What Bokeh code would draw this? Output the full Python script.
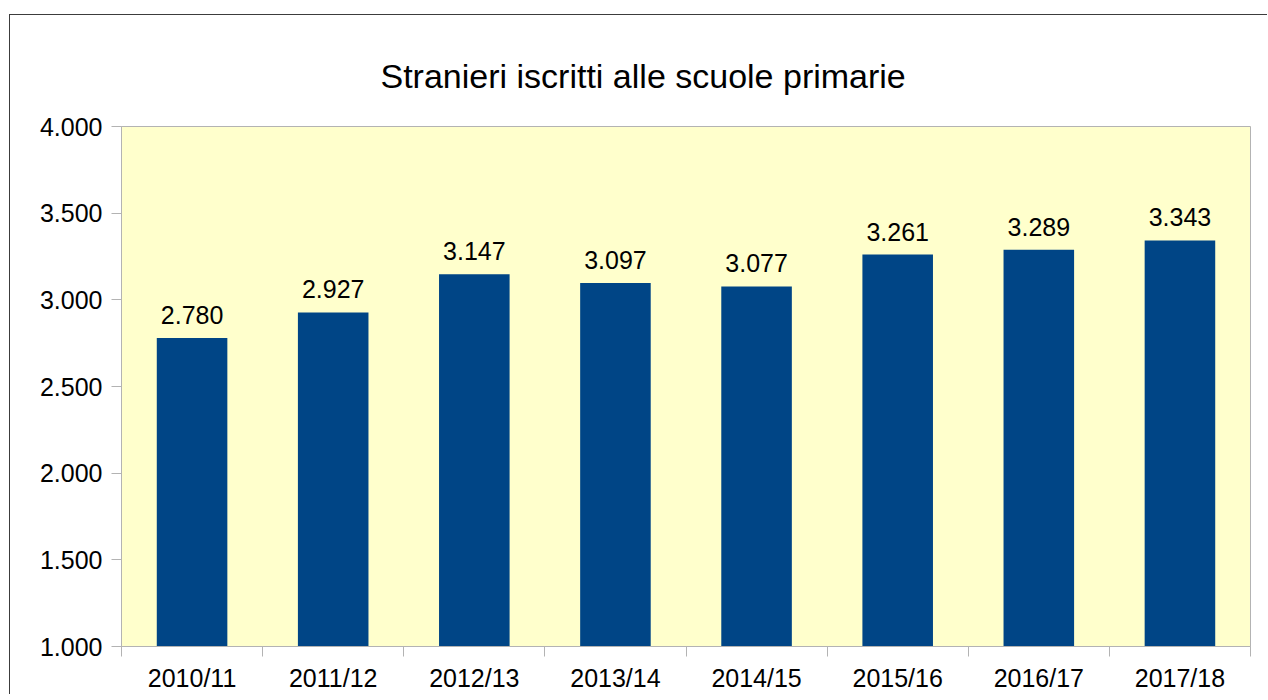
from bokeh.plotting import figure
from bokeh.models import ColumnDataSource, FixedTicker, Range1d
from bokeh.core.properties import value
from bokeh.embed import file_html
from bokeh.resources import INLINE

categories = ["2010/11", "2011/12", "2012/13", "2013/14", "2014/15", "2015/16", "2016/17", "2017/18"]
values = [2780, 2927, 3147, 3097, 3077, 3261, 3289, 3343]
y_ticks = [1000, 1500, 2000, 2500, 3000, 3500, 4000]
y_tick_labels = ["1.000", "1.500", "2.000", "2.500", "3.000", "3.500", "4.000"]
chart_title = "Stranieri iscritti alle scuole primarie"

FONT = "Liberation Sans"
n = len(categories)
xs = [i + 0.5 for i in range(n)]
bar_labels = [f"{v:,}".replace(",", ".") for v in values]
src = ColumnDataSource(dict(x=xs, top=values, label=bar_labels))

p = figure(width=1258, height=680, output_backend="svg", toolbar_location=None,
           x_range=Range1d(0, n), y_range=Range1d(y_ticks[0], y_ticks[-1]),
           min_border_left=111, min_border_right=18, min_border_top=111, min_border_bottom=49)
p.margin = (14, 0, 0, 9)
p.styles = {"border-left": "1px solid #3c3c3c", "border-top": "1px solid #3c3c3c"}

p.background_fill_color = "#ffffcc"
p.border_fill_color = "white"
p.outline_line_color = "#b3b3b3"
p.xgrid.visible = False
p.ygrid.visible = False

p.vbar(x="x", top="top", bottom=y_ticks[0], width=0.5, source=src,
       fill_color="#004586", line_color=None)
p.text(x="x", y="top", text="label", source=src, text_align="center",
       text_baseline="alphabetic", y_offset=-23, text_font=value(FONT),
       text_font_size="25px", text_color="black")

p.title.text = chart_title
p.title.align = "left"
p.title.offset = 259
p.title.text_font = FONT
p.title.text_font_size = "34px"
p.title.text_font_style = "normal"
p.title.text_color = "black"
p.title.standoff = 64

xa = p.xaxis[0]
xa.ticker = FixedTicker(ticks=xs, minor_ticks=list(range(n + 1)))
xa.major_label_overrides = {x: c for x, c in zip(xs, categories)}
xa.major_tick_in = 0
xa.major_tick_out = 0
xa.minor_tick_in = 0
xa.minor_tick_out = 10
xa.minor_tick_line_color = "#b3b3b3"
xa.axis_line_color = "#b3b3b3"
xa.major_label_standoff = 7
xa.major_label_text_font = FONT
xa.major_label_text_font_size = "25px"
xa.major_label_text_color = "black"

ya = p.yaxis[0]
ya.ticker = FixedTicker(ticks=y_ticks)
ya.major_label_overrides = {t: l for t, l in zip(y_ticks, y_tick_labels)}
ya.major_tick_in = 0
ya.major_tick_out = 10
ya.minor_tick_out = 0
ya.minor_tick_in = 0
ya.major_tick_line_color = "#b3b3b3"
ya.axis_line_color = "#b3b3b3"
ya.major_label_standoff = 9
ya.major_label_text_font = FONT
ya.major_label_text_font_size = "25px"
ya.major_label_text_color = "black"

open("out.html", "w").write(file_html(p, INLINE))
